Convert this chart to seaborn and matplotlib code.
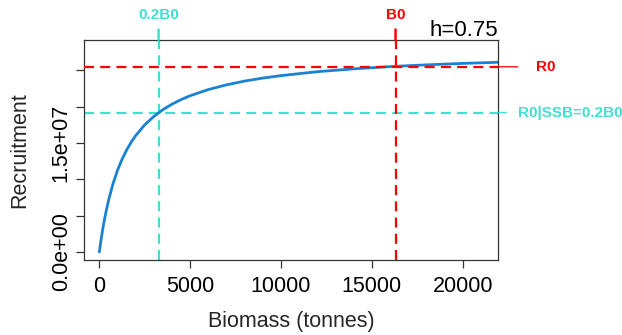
import matplotlib
matplotlib.use("Agg")
import matplotlib.pyplot as plt
import seaborn as sns
import pandas as pd

# ── Data ─────────────────────────────────────────────────────────────────────
biomass = [0, 25, 50, 75, 100, 150, 200, 250, 350, 500, 750, 1000, 1250,
           1500, 1750, 2000, 2500, 3000, 3500, 4000, 4500, 5000, 6000, 7000,
           8000, 9000, 10000, 12000, 14000, 16000, 18000, 20000, 22000]
recruit = [0.0, 0.46e6, 0.91e6, 1.34e6, 1.76e6, 2.56e6, 3.32e6, 4.03e6,
           5.33e6, 7.03e6, 9.37e6, 11.24e6, 12.76e6, 14.03e6, 15.10e6,
           16.02e6, 17.51e6, 18.66e6, 19.59e6, 20.35e6, 20.98e6, 21.51e6,
           22.36e6, 23.01e6, 23.53e6, 23.94e6, 24.28e6, 24.82e6, 25.21e6,
           25.52e6, 25.76e6, 25.96e6, 26.12e6]

B0 = 16300
R0 = 2.55e7
R0_02B0 = 1.92e7          # recruitment at SSB = 0.2 B0
steepness = 0.75

x_ticks = [0, 5000, 10000, 15000, 20000]
x_ticklabels = ["0", "5000", "10000", "15000", "20000"]
y_ticks = [0, 5e6, 1e7, 1.5e7, 2e7, 2.5e7]
y_ticklabels = ["0.0e+00", "", "", "1.5e+07", "", ""]

# ── Style ────────────────────────────────────────────────────────────────────
sns.set_style("ticks")
plt.rcParams["font.family"] = ["Liberation Sans", "DejaVu Sans"]

RED = "#FF0000"
CYAN = "#40E0D0"
BLUE = "#1A82D4"
FRAME = "#333333"

df = pd.DataFrame({"Biomass": biomass, "Recruitment": recruit})

fig = plt.figure(figsize=(6.22, 3.35), dpi=100)
ax = fig.add_axes([0.135, 0.224, 0.666, 0.657])

sns.lineplot(data=df, x="Biomass", y="Recruitment", ax=ax,
             color=BLUE, lw=2.0, zorder=3)

dash = (0, (4.5, 2.8))
ax.axhline(R0, color=RED, lw=1.6, ls=dash, zorder=4)
ax.axvline(B0, color=RED, lw=1.6, ls=dash, zorder=4)
ax.axhline(R0_02B0, color=CYAN, lw=1.6, ls=dash, zorder=2)
ax.axvline(0.2 * B0, color=CYAN, lw=1.6, ls=dash, zorder=2)

ax.set_xlim(-845, 21950)
ax.set_ylim(-1.1e6, 29.2e6)

ax.set_xticks(x_ticks, x_ticklabels)
ax.set_yticks(y_ticks)
ax.set_yticklabels(y_ticklabels, rotation=90, va="center")
ax.tick_params(axis="both", length=5.8, width=0.9, color=FRAME,
               labelsize=15.5, labelcolor="black")
ax.tick_params(axis="x", pad=6)
ax.tick_params(axis="y", pad=3)

for sp in ax.spines.values():
    sp.set_visible(True)
    sp.set_color(FRAME)
    sp.set_linewidth(0.9)

ax.set_xlabel("Biomass (tonnes)", fontsize=15.5, labelpad=10)
ax.set_ylabel("Recruitment", fontsize=15.5, labelpad=15)

# ── Top ticks: 0.2B0 and B0 ─────────────────────────────────────────────────
for xv, lab, col in [(0.2 * B0, "0.2B0", CYAN), (B0, "B0", RED)]:
    ax.annotate("", xy=(xv, 1), xycoords=("data", "axes fraction"),
                xytext=(0, 7.5), textcoords="offset points",
                arrowprops=dict(arrowstyle="-", color=col, lw=1.8,
                                shrinkA=0, shrinkB=0))
    ax.annotate(lab, xy=(xv, 1), xycoords=("data", "axes fraction"),
                xytext=(0, 13), textcoords="offset points",
                ha="center", va="bottom", color=col,
                fontsize=11, fontweight="bold")

# ── Right ticks: R0 and R0|SSB=0.2B0 ────────────────────────────────────────
for yv, lab, col, tlen, gap in [(R0, "R0", RED, 14, 13),
                                (R0_02B0, "R0|SSB=0.2B0", CYAN, 6, 8)]:
    ax.annotate("", xy=(1, yv), xycoords=("axes fraction", "data"),
                xytext=(tlen, 0), textcoords="offset points",
                arrowprops=dict(arrowstyle="-", color=col, lw=0.9,
                                shrinkA=0, shrinkB=0))
    ax.annotate(lab, xy=(1, yv), xycoords=("axes fraction", "data"),
                xytext=(tlen + gap, 0), textcoords="offset points",
                ha="left", va="center", color=col,
                fontsize=11, fontweight="bold")

ax.annotate(f"h={steepness}", xy=(1, 1), xycoords="axes fraction",
            xytext=(0, 3), textcoords="offset points",
            ha="right", va="baseline", fontsize=16, color="black")

fig.savefig("out.png", dpi=100)
